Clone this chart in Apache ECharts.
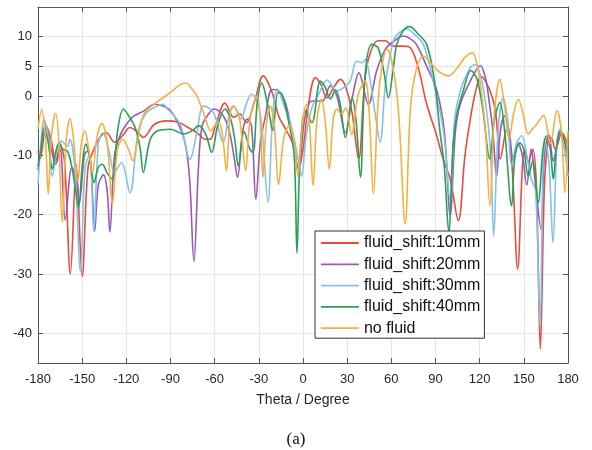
<!DOCTYPE html>
<html>
<head>
<meta charset="utf-8">
<script src="https://cdn.jsdelivr.net/npm/echarts@6/dist/echarts.min.js"></script>
<style>
  html, body { margin: 0; padding: 0; background: #fff; }
  #chart { width: 592px; height: 450px; }
</style>
</head>
<body>
<div id="chart"></div>
<script>
// Radiation pattern (dB) versus theta (degrees) for several fluid shifts.
const seriesNames = ['fluid_shift:10mm', 'fluid_shift:20mm', 'fluid_shift:30mm', 'fluid_shift:40mm', 'no fluid'];
const xTicks = [-180, -150, -120, -90, -60, -30, 0, 30, 60, 90, 120, 150, 180];
const yTicks = [-40, -30, -20, -10, 0, 5, 10];

const shift10mm = [[-180,-9.3],[-178.5,-10.5],[-174.5,-5.0],[-171,-7.5],[-168,-11],[-165,-8.5],[-162,-11],[-158,-30],[-154,-11.5],[-150,-30.4],[-146,-12],[-142,-9],[-138,-7],[-133.5,-6.2],[-128,-7.8],[-122,-6.5],[-117.5,-5.3],[-112,-6.2],[-108.5,-7.0],[-101,-4.8],[-92,-4.2],[-85,-4.4],[-78,-5.3],[-72,-6.2],[-66,-7.3],[-63,-7.3],[-59.5,-5.0],[-53,-1.2],[-47,-3.6],[-43,-3],[-38.5,-4.5],[-33,-1],[-27,3.4],[-21,0.6],[-16.5,-3.4],[-12,-5.5],[-7,-8],[-3,-12.3],[0,-9],[4,-1],[8.4,3.1],[12,2],[16.3,-0.3],[21,1.5],[25.4,2.8],[29,1.5],[33.3,-2.8],[37.8,-10.6],[43,4.5],[51,9.3],[56,9.3],[61,8.4],[67,8.4],[72,8.3],[78,5],[84,-1.4],[90,-6],[95.5,-10.9],[100,-14],[105.5,-21],[110,-10],[113.6,-4],[117,0.5],[121,3.3],[125,2],[128.3,0],[131,-3],[134,-10.6],[138.3,-5.6],[142,-12],[145.8,-29.2],[149,-12],[150.7,-9],[153,-11],[156,-9],[158.5,-15],[161.2,-42.6],[164,-15],[166.6,-7.3],[168.5,-7],[171.4,-9],[175.9,-6.2],[180,-8.4]];

const shift20mm = [[-180,-12.5],[-177.5,-8],[-174.5,-5.5],[-171,-9],[-168,-11.5],[-165,-9],[-161.5,-20.9],[-157,-12],[-154,-14],[-152,-18],[-148.5,-10],[-146.5,-9.3],[-144,-12],[-141.5,-22.8],[-139,-15],[-135.5,-13.3],[-133,-16],[-131.2,-22.9],[-128,-10],[-124,-6.5],[-120,-4.8],[-115,-3.4],[-108,-2.5],[-101,-1.4],[-95,-1.7],[-90,-2.5],[-85,-4.5],[-80,-8],[-77,-14],[-74.1,-27.9],[-71,-12],[-68.5,-5],[-64,-3],[-60.5,-2.2],[-54,-3.4],[-50,-6],[-47,-10],[-44.5,-13.7],[-41,-6],[-37.8,-3.9],[-35,-5],[-32,-17.4],[-29,-8],[-25.5,-3.4],[-21,1.1],[-16.5,0.85],[-12,-1.1],[-7.5,-6.2],[-3,-12.3],[0,-6],[2,-2.8],[6,-0.85],[13,-0.85],[18.6,1.7],[23,0],[28.8,-6.2],[33.3,-0.5],[38,3.9],[44.4,-1.4],[50,4.2],[56,7.9],[62,9.3],[68,10.1],[72,9.8],[77,8.7],[84,5],[91,0.85],[96,-6],[100,-20],[103.5,-6],[106.8,-1.4],[113.6,2.5],[120.4,5.1],[124,3],[126.5,-1],[129,-6],[131.5,-13.5],[134,-6],[137,-3.4],[140,-6],[143,-11],[146,-8],[149,-10],[152,-15],[155,-9],[157.5,-14],[161.6,-22.4],[164,-10],[167,-6.5],[170,-11],[172,-9],[175,-6],[178,-8],[180,-10]];

const shift30mm = [[-180,-14.9],[-178,-8],[-176,-3.9],[-173,-7],[-170.3,-13.5],[-167,-9],[-164,-7.6],[-160,-8.5],[-158.4,-7.3],[-155,-12],[-151.2,-29.5],[-148,-12],[-145,-10],[-142.1,-22.8],[-139,-8],[-136,-6.2],[-132,-9],[-128,-12.9],[-123.3,-11.2],[-117.6,-16.3],[-112,-6],[-107,-3],[-103,-2.2],[-95,-1.4],[-92,-2.2],[-88,-3.2],[-83,-5],[-76.8,-10.7],[-72,-6],[-67.8,-1.7],[-64,-2],[-60,-3.2],[-54.2,-7.8],[-50,-3],[-46.9,-1.7],[-42.4,-3.9],[-38,-1],[-35,0.3],[-31,-1],[-28,-5],[-23.8,-17.9],[-20.5,-3],[-17.5,1.2],[-13,-1.5],[-8,-5],[-3,-11],[-1,-13.5],[2,-7],[6,-2],[10.6,0.3],[16.5,2.7],[23,0.85],[27.6,1.4],[32,2.5],[36.5,5.9],[40,5.6],[42.2,6.2],[46,2],[49,-3],[52.4,-7.8],[56,2],[61.4,9.3],[66,10.8],[70.5,11.3],[76,10.3],[81.8,8.7],[88,3],[95.4,-5.9],[100,-17.7],[103,-4],[106.8,0.85],[113.6,4.8],[117,5.3],[121,3],[125,-3],[127.5,-10],[129.5,-23.6],[132.5,-6],[136,-0.3],[139,-4],[141.7,-11.8],[145,-8],[148.5,-6.7],[152,-10],[155,-14],[158,-16],[161,-38.7],[163,-12],[164.5,-7.9],[167,-11],[169.8,-24.7],[172.5,-8],[174.5,-5.6],[177,-8],[180,-13.5]];

const shift40mm = [[-180,-11.8],[-178,-9],[-175.9,-5.3],[-173,-8],[-170.3,-12.3],[-168,-9.5],[-165.7,-7.9],[-163,-9],[-160,-9.3],[-157,-12],[-155,-15],[-152.5,-18.8],[-150,-12],[-147.6,-8.1],[-145,-10],[-141.9,-14.6],[-139,-12],[-136.3,-11.5],[-133,-13],[-129.5,-14],[-126,-6],[-122,-2.2],[-118,-3.5],[-113.6,-5.6],[-110.5,-9],[-108.5,-12.9],[-104,-7.5],[-99,-5.9],[-90,-5.6],[-81,-6.4],[-75,-5.8],[-71,-5.0],[-66,-6.5],[-62,-9.5],[-58,-5],[-53,-2.2],[-49,-4],[-46,-8],[-44,-11.8],[-40,-6],[-36,-9],[-34,-9.5],[-31,-1],[-28,2.2],[-24,-1.5],[-20.5,-5.8],[-17,0.6],[-14.3,0.3],[-10,-4],[-6,-10],[-4.1,-26.5],[-2,-10],[1.6,-2.5],[6,-4.5],[11.8,2.5],[15,1.5],[18.6,-0.5],[22,1],[25,-1],[28.8,-7],[33.3,-0.3],[36,-4],[39,-13.7],[42.2,3.6],[46.7,8.7],[51,8.1],[55,4],[58,-0.3],[61,4],[63.7,8.7],[68,11],[72.5,11.7],[78,10.5],[84,8.7],[89,3],[93,-5.9],[96,-12],[99,-22.9],[102,-8],[104.5,-3.1],[109,1],[114,4.3],[118,3],[122,-2],[126.9,-10.6],[130,-4],[133.7,-1.1],[137,-6],[141.7,-18.5],[144,-10],[147.3,-7.9],[150,-9],[153,-13.5],[156,-11],[159.8,-18],[163,-9],[165.5,-6.7],[168,-9],[170,-14],[172,-9],[174.5,-5.9],[177,-7],[180,-10.6]];

const noFluid = [[-180,-5.6],[-177.5,-2.3],[-175,-7],[-173,-16.5],[-171,-7],[-168,-2.9],[-166,-7],[-163.5,-21.3],[-161,-8],[-158.3,-3.8],[-156,-7],[-153,-14.5],[-150.5,-8],[-148.2,-5.9],[-145.5,-9],[-143,-13],[-140,-7],[-136.6,-4.6],[-133,-8],[-129.5,-18.2],[-126,-9],[-122.5,-7.3],[-118.5,-9],[-115.5,-10.9],[-112,-7],[-108,-3],[-99,-1],[-90,0.6],[-84,1.8],[-79.5,2.2],[-75.5,1.2],[-72,0],[-66,-4],[-62.8,-5.9],[-60,-5],[-57,-4.5],[-54.5,-7],[-52,-12.6],[-50,-5],[-48,-1.7],[-44,-2.8],[-41.5,-7],[-39,-12.6],[-36,-4],[-31.3,0],[-29,-4],[-27.2,-13.7],[-25,-5],[-22.2,-1.7],[-19.5,-5],[-16.6,-14.9],[-13,-7],[-9.3,-5.0],[-6,-8],[-3.5,-13.5],[-0.5,-5],[2.3,-1.4],[4.5,-5],[6.8,-15.1],[9.5,-4],[12.5,-0.55],[15,-4],[17.9,-12.3],[20.5,-4],[23.1,-2.2],[26,-3],[29,-2],[33,-6.5],[37.5,0.3],[42.2,2.5],[45,-3],[47.8,-16.5],[51,-1],[54,5.5],[57,7.9],[61,5],[65,-3],[69.4,-21.6],[73,-2],[77,4.5],[81.8,6.7],[88,5.2],[93,4],[98.8,3.4],[105,4.8],[110,6.5],[115,7.3],[118,5.5],[121,1],[124,-6],[126.9,-18.5],[130,-3],[133.7,2.8],[137,-2],[140,-7.3],[143,-3],[146.3,-0.6],[149.5,-3],[153,-6.4],[156,-5.5],[158,-5],[163.4,-3.3],[168,-8],[172.5,-2.5],[175.5,-6],[178,-16.3],[180,-5.9]];

const seriesData = [shift10mm, shift20mm, shift30mm, shift40mm, noFluid];
const seriesColors = ['#E74C3C', '#9B59B6', '#85C1E9', '#27A05A', '#F5B041'];

const FONT = '"Liberation Sans", Arial, Helvetica, sans-serif';
const AXIS_GRAY = '#555555';
const GRID_GRAY = '#e6e6e6';

const chart = echarts.init(document.getElementById('chart'), null, { renderer: 'canvas' });

const xBase = {
  type: 'value', min: -180, max: 180, interval: 30,
  axisLine: { show: true, onZero: false, lineStyle: { color: AXIS_GRAY, width: 1 } },
  axisTick: { show: true, inside: true, length: 5, lineStyle: { color: AXIS_GRAY } }
};
const yBase = {
  type: 'value', min: -45, max: 15,
  axisLine: { show: true, onZero: false, lineStyle: { color: AXIS_GRAY, width: 1 } },
  axisTick: { show: true, inside: true, length: 5, customValues: yTicks, lineStyle: { color: AXIS_GRAY } }
};

const option = {
  animation: false,
  backgroundColor: '#ffffff',
  title: {
    text: '(a)', left: 'center', top: 426,
    textStyle: { fontFamily: '"Liberation Serif", "Times New Roman", serif', fontSize: 17, fontWeight: 'normal', color: '#111' }
  },
  grid: { left: 38, top: 7, width: 530, height: 356, containLabel: false },
  legend: {
    data: seriesNames,
    orient: 'vertical',
    left: 315, top: 231,
    padding: [4, 4, 2, 5],
    itemWidth: 38, itemHeight: 14, itemGap: 5.3,
    backgroundColor: '#ffffff',
    borderColor: '#333333', borderWidth: 1, borderRadius: 0,
    itemStyle: { opacity: 0 },
    lineStyle: { width: 1.8 },
    textStyle: { fontFamily: FONT, fontSize: 16, color: '#111' }
  },
  xAxis: [
    Object.assign({}, xBase, {
      position: 'bottom',
      name: 'Theta / Degree', nameLocation: 'middle', nameGap: 30,
      nameTextStyle: { fontFamily: FONT, fontSize: 14, color: '#262626' },
      axisLabel: { show: true, margin: 10, fontFamily: FONT, fontSize: 13, color: '#262626',
        customValues: xTicks },
      splitLine: { show: true, lineStyle: { color: GRID_GRAY, width: 1 } }
    }),
    Object.assign({}, xBase, {
      position: 'top',
      axisLabel: { show: false },
      splitLine: { show: false }
    })
  ],
  yAxis: [
    Object.assign({}, yBase, {
      position: 'left',
      axisLabel: { show: true, margin: 6, fontFamily: FONT, fontSize: 13, color: '#262626', customValues: yTicks },
      splitLine: { show: true, lineStyle: { color: GRID_GRAY, width: 1 } }
    }),
    Object.assign({}, yBase, {
      position: 'right',
      axisLabel: { show: false },
      splitLine: { show: false }
    })
  ],
  series: seriesNames.map((name, i) => ({
    name: name,
    type: 'line',
    xAxisIndex: 0, yAxisIndex: 0,
    data: seriesData[i],
    smooth: 0.35,
    symbol: 'none',
    clip: true,
    lineStyle: { color: seriesColors[i], width: 1.6 },
    itemStyle: { color: seriesColors[i] }
  }))
};

chart.setOption(option);
</script>
</body>
</html>
